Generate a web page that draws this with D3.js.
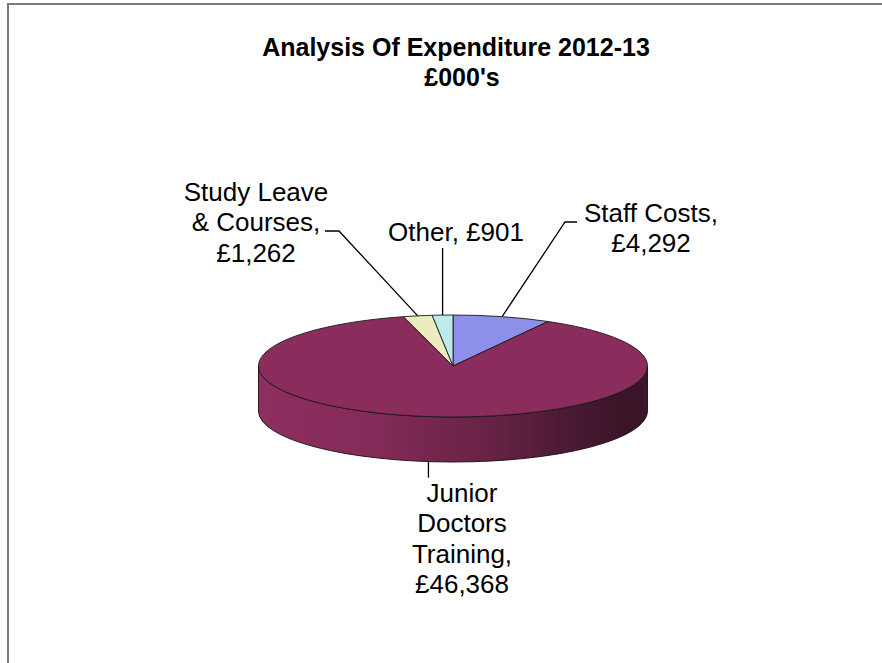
<!DOCTYPE html>
<html>
<head>
<meta charset="utf-8">
<script src="https://cdn.jsdelivr.net/npm/d3@7"></script>
<style>
  html, body { margin: 0; padding: 0; background: #fff; }
  svg { display: block; }
  text { font-family: "Liberation Sans", Arial, sans-serif; fill: #000; }
</style>
</head>
<body>
<svg id="chart" width="882" height="663"></svg>
<script>
// Expenditure categories (£000's), clockwise from 12 o'clock
const categories = ["Staff Costs", "Junior Doctors Training", "Study Leave & Courses", "Other"];
const amounts = [4292, 46368, 1262, 901];
const labelLines = [
  ["Staff Costs,", "£4,292"],
  ["Junior", "Doctors", "Training,", "£46,368"],
  ["Study Leave", "& Courses,", "£1,262"],
  ["Other, £901"]
];
const sliceColors = ["#8E8EEB", "#8B2D5C", "#EDEBC0", "#BDEBEB"];
const titleLines = ["Analysis Of Expenditure 2012-13", "£000's"];

const svg = d3.select("#chart");

// Frame lines along the top and left edge
svg.append("path")
  .attr("d", "M8,663 L8,4 L882,4")
  .attr("fill", "none")
  .attr("stroke", "#7a7a7a")
  .attr("stroke-width", 2);

// Title
const title = svg.append("text")
  .attr("text-anchor", "middle")
  .attr("font-weight", "bold")
  .attr("font-size", 25);
title.append("tspan").attr("x", 456).attr("y", 56).text(titleLines[0]);
title.append("tspan").attr("x", 462).attr("y", 86).text(titleLines[1]);

// 3D pie geometry
const cx = 453, cy = 366, rx = 194.5, ry = 51, depth = 45;
const pt = (a, dy = 0) => [cx + rx * Math.sin(a), cy - ry * Math.cos(a) + dy];

const pie = d3.pie().sort(null).startAngle(0).endAngle(2 * Math.PI);
const arcs = pie(amounts).map((d, i) => ({ ...d, name: categories[i], color: sliceColors[i], lines: labelLines[i] }));

const defs = svg.append("defs");
const grad = defs.append("linearGradient")
  .attr("id", "sideShade")
  .attr("gradientUnits", "userSpaceOnUse")
  .attr("x1", cx - rx).attr("x2", cx + rx).attr("y1", 0).attr("y2", 0);
[[0, "#8E2F5F"], [0.3, "#832B58"], [0.55, "#6C2448"], [0.8, "#4A1A33"], [0.95, "#391426"], [1, "#3E1729"]]
  .forEach(([o, c]) => grad.append("stop").attr("offset", o).attr("stop-color", c));

// Outer wall: only the front half (angles PI/2..3PI/2) is visible
const wallPath = (a0, a1) => {
  const s = Math.max(a0, Math.PI / 2), e = Math.min(a1, 3 * Math.PI / 2);
  if (e <= s) return null;
  const [x0, y0] = pt(s), [x1, y1] = pt(e);
  const [x2, y2] = pt(e, depth), [x3, y3] = pt(s, depth);
  const large = (e - s) > Math.PI ? 1 : 0;
  return `M${x0},${y0} A${rx},${ry} 0 ${large} 1 ${x1},${y1} L${x2},${y2} A${rx},${ry} 0 ${large} 0 ${x3},${y3} Z`;
};

const topPath = (a0, a1) => {
  const [x0, y0] = pt(a0), [x1, y1] = pt(a1);
  const large = (a1 - a0) > Math.PI ? 1 : 0;
  return `M${cx},${cy} L${x0},${y0} A${rx},${ry} 0 ${large} 1 ${x1},${y1} Z`;
};

const g = svg.append("g");
arcs.forEach(d => {
  const w = wallPath(d.startAngle, d.endAngle);
  if (w) g.append("path").attr("d", w).attr("fill", "url(#sideShade)")
    .attr("stroke", "#1a0a12").attr("stroke-width", 0.9).attr("stroke-linejoin", "round");
});
arcs.forEach(d => {
  g.append("path").attr("d", topPath(d.startAngle, d.endAngle))
    .attr("fill", d.color).attr("stroke", "#1a1a1a").attr("stroke-width", 0.9).attr("stroke-linejoin", "round");
});

// Labels with leader lines from each slice's mid-angle on the rim
const labelLayout = [
  { x: 651, y: 222, bend: [565, 222], end: [577, 222] },
  { x: 462, y: 502 },
  { x: 256, y: 201, bend: [339, 231], end: [325, 231] },
  { x: 456, y: 241 }
];

arcs.forEach((d, i) => {
  const L = labelLayout[i];
  const mid = (d.startAngle + d.endAngle) / 2;
  const onFront = Math.cos(mid) < 0;
  const [ax, ay] = pt(mid, onFront ? depth : 0);
  let pts;
  if (onFront) pts = [[ax, ay], [ax, ay + 16]];
  else if (!L.bend) pts = [[ax, ay], [ax, 248]];
  else pts = [[ax, ay], L.bend, L.end];
  svg.append("path").attr("d", d3.line()(pts))
    .attr("fill", "none").attr("stroke", "#000").attr("stroke-width", 1.3);

  const t = svg.append("text").attr("text-anchor", "middle").attr("font-size", 26);
  d.lines.forEach((s, k) => t.append("tspan").attr("x", L.x).attr("y", L.y + k * 30.3).text(s));
});
</script>
</body>
</html>
